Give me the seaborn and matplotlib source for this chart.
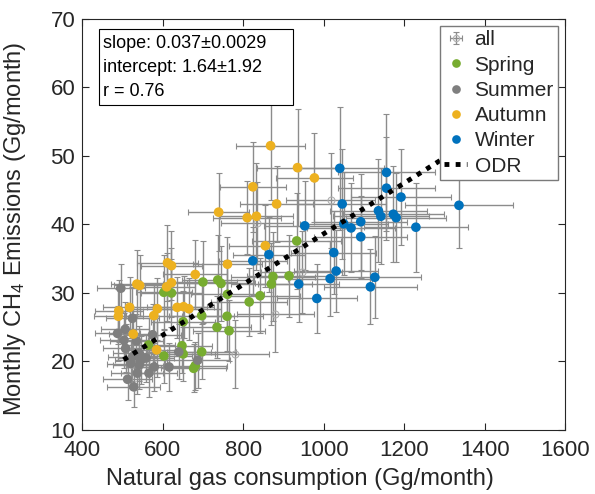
import numpy as np
import pandas as pd
import matplotlib
matplotlib.use('Agg')
import matplotlib.pyplot as plt
from matplotlib.patches import Rectangle
from matplotlib.container import ErrorbarContainer
from matplotlib.legend_handler import HandlerErrorbar
import seaborn as sns

# Seasonal monthly points: natural gas use (Gg/month) vs CH4 emissions (Gg/month)
spring_x = [603, 622, 700, 737, 745, 761, 870, 874, 914, 933, 842, 815,
            760, 735, 765, 697, 651, 648, 651, 603, 697, 681, 677, 565]
spring_y = [30.1, 30.0, 31.6, 31.9, 31.4, 29.8, 31.3, 32.4, 32.5, 37.6, 29.6, 28.7,
            26.6, 25.0, 24.5, 26.7, 25.8, 22.3, 21.1, 20.8, 21.4, 19.4, 19.0, 22.4]
spring_xerr = [70, 75, 85, 90, 85, 90, 100, 105, 105, 110, 100, 95,
               90, 85, 90, 80, 80, 75, 80, 70, 85, 80, 80, 65]
spring_yerr = [5.5, 5.0, 6.0, 6.5, 5.5, 5.0, 6.0, 6.5, 6.0, 7.0, 5.5, 5.0,
               5.0, 4.5, 4.5, 5.0, 4.5, 4.0, 4.0, 4.0, 4.0, 3.5, 3.5, 4.0]

summer_x = [496, 525, 488, 507, 504, 508, 575, 525, 542, 546, 559,
            521, 542, 537, 566, 579, 513, 528, 616, 640, 687, 535]
summer_y = [30.7, 26.3, 24.1, 24.7, 23.1, 21.9, 23.9, 20.7, 21.2, 20.2, 20.5,
            19.7, 19.5, 18.3, 18.3, 19.2, 17.4, 16.3, 19.2, 21.4, 20.2, 23.0]
summer_xerr = [60, 65, 55, 60, 60, 55, 70, 60, 65, 65, 70,
               60, 65, 65, 70, 70, 60, 65, 75, 80, 80, 65]
summer_yerr = [3.5, 4.5, 4.0, 4.0, 4.0, 3.5, 4.5, 3.5, 4.0, 3.5, 3.5,
               3.5, 3.5, 3.0, 3.5, 3.5, 3.0, 3.0, 3.5, 4.0, 4.0, 4.0]

autumn_x = [868, 935, 977, 824, 739, 810, 833, 883, 855, 612, 622, 761, 681, 536,
            543, 610, 622, 518, 491, 490, 587, 578, 636, 652, 665, 527, 585]
autumn_y = [51.5, 48.3, 46.8, 45.5, 41.8, 41.0, 41.2, 43.0, 36.9, 34.4, 34.0, 34.2, 32.7, 31.3,
            31.1, 30.9, 31.5, 27.9, 27.4, 26.6, 27.7, 26.7, 27.9, 28.0, 27.7, 24.0, 21.7]
autumn_xerr = [86, 100, 95, 82, 75, 85, 90, 90, 90, 75, 75, 85, 80, 65,
               65, 70, 75, 65, 60, 60, 70, 70, 75, 75, 80, 60, 70]
autumn_yerr = [8.0, 8.5, 6.5, 6.6, 5.7, 5.3, 7.8, 5.6, 6.0, 5.5, 5.0, 4.0, 5.0, 5.0,
               4.5, 5.0, 5.0, 4.5, 4.5, 4.0, 4.5, 4.5, 4.5, 4.5, 4.5, 4.0, 4.0]

winter_x = [1040, 1156, 1156, 1192, 1046, 1336, 1136, 1142, 1173, 1180, 1092, 1050, 1068,
            1229, 953, 1092, 864, 824, 1025, 1031, 1016, 1127, 1116, 938, 983]
winter_y = [48.2, 47.6, 45.3, 44.0, 43.0, 42.8, 42.0, 41.2, 41.5, 41.0, 40.4, 40.1, 39.5,
            39.6, 39.8, 38.2, 35.6, 34.7, 35.9, 33.2, 32.1, 32.3, 30.9, 31.3, 29.2]
winter_xerr = [110, 120, 120, 125, 110, 135, 120, 120, 125, 125, 115, 110, 110,
               130, 100, 115, 90, 85, 105, 105, 105, 115, 115, 100, 100]
winter_yerr = [9.0, 8.5, 7.5, 7.0, 8.0, 6.3, 7.5, 7.0, 7.0, 6.5, 7.0, 7.5, 6.5,
               6.5, 6.5, 6.0, 5.5, 5.0, 6.0, 6.0, 5.5, 6.0, 5.5, 5.5, 5.0]

# months without a season marker (only the open "all" circle is visible)
other_x = [779, 880, 1017, 835, 945]
other_y = [21.1, 26.9, 43.5, 40.2, 33.1]
other_xerr = [85, 95, 110, 90, 100]
other_yerr = [5.0, 5.5, 7.0, 6.0, 6.0]

# ODR fit results
odr_slope, odr_slope_err = 0.037, 0.0029
odr_icpt, odr_icpt_err = 1.64, 1.92
odr_r = 0.76

seasons = ['Spring', 'Summer', 'Autumn', 'Winter']
season_colors = ['#77AC30', '#7f7f7f', '#EDB120', '#0072BD']

frames = []
for name, xs, ys, xe, ye in [
        ('Spring', spring_x, spring_y, spring_xerr, spring_yerr),
        ('Summer', summer_x, summer_y, summer_xerr, summer_yerr),
        ('Autumn', autumn_x, autumn_y, autumn_xerr, autumn_yerr),
        ('Winter', winter_x, winter_y, winter_xerr, winter_yerr),
        ('None', other_x, other_y, other_xerr, other_yerr)]:
    frames.append(pd.DataFrame({'gas': xs, 'ch4': ys, 'xerr': xe, 'yerr': ye, 'season': name}))
df = pd.concat(frames, ignore_index=True)

sns.set_theme(style='ticks')
plt.rcParams['font.family'] = ['Liberation Sans', 'DejaVu Sans']
plt.rcParams['mathtext.fontset'] = 'custom'
plt.rcParams['mathtext.rm'] = 'Liberation Sans'
plt.rcParams['mathtext.it'] = 'Liberation Sans:italic'

fig = plt.figure(figsize=(5.95, 4.94), dpi=100, facecolor='white')
ax = fig.add_axes([0.138, 0.1296, 0.812, 0.832])

# all months with error bars
eb = ax.errorbar(df['gas'], df['ch4'], xerr=df['xerr'], yerr=df['yerr'],
                 fmt='o', ms=5, mfc='none', mec='#b0b0b0', mew=0.8,
                 ecolor='#8c8c8c', elinewidth=1.0, capsize=2.5, capthick=1.0,
                 label='all', zorder=2)

seasonal = df[df['season'] != 'None']
sns.scatterplot(data=seasonal, x='gas', y='ch4', hue='season', hue_order=seasons,
                palette=season_colors, s=48, linewidth=0, ax=ax, zorder=3)
sleg = ax.get_legend()
s_pairs = [(h, t.get_text()) for h, t in zip(sleg.legend_handles, sleg.texts)
           if t.get_text() in seasons]
sleg.remove()

xfit = np.array([df['gas'].min() + 15, df['gas'].max()])
odr_line, = ax.plot(xfit, odr_slope * xfit + odr_icpt, color='black', lw=3.5,
                    dashes=(1, 1.3), label='ODR', zorder=4)

ax.set_xlim(400, 1600)
ax.set_ylim(10, 70)
ax.set_xticks(np.arange(400, 1601, 200))
ax.set_yticks(np.arange(10, 71, 10))
ax.tick_params(direction='in', length=5, width=0.8, labelsize=16, colors='#262626',
               top=True, right=True)
ax.tick_params(axis='x', pad=7)
ax.tick_params(axis='y', pad=5)
for sp in ax.spines.values():
    sp.set_visible(True)
    sp.set_color('#262626')
    sp.set_linewidth(0.8)

ax.set_xlabel('Natural gas consumption (Gg/month)', fontsize=17, color='#262626')
ax.set_ylabel('Monthly CH$_4$ Emissions (Gg/month)', fontsize=17, color='#262626')
ax.xaxis.set_label_coords(0.45, -0.092)
ax.yaxis.set_label_coords(-0.112, 0.49)

# fit statistics box
ax.add_patch(Rectangle((0.034, 0.791), 0.402, 0.184, transform=ax.transAxes,
                       facecolor='white', edgecolor='black', lw=0.8, zorder=5))
stat_lines = [f'slope: {odr_slope}\u00b1{odr_slope_err}',
              f'intercept: {odr_icpt}\u00b1{odr_icpt_err}',
              f'r = {odr_r}']
for i, line in enumerate(stat_lines):
    ax.text(0.043, 0.940 - i * 0.058, line, transform=ax.transAxes, fontsize=13,
            color='black', va='center', ha='left', zorder=6)

handles = [eb] + [p[0] for p in s_pairs] + [odr_line]
labels = ['all'] + [p[1] for p in s_pairs] + ['ODR']
leg = ax.legend(handles, labels, loc='upper right', fontsize=15, frameon=True,
                fancybox=False, edgecolor='#7a7a7a', framealpha=1, handlelength=1.1,
                handletextpad=0.35, labelspacing=0.3, borderpad=0.2,
                borderaxespad=0.35, markerscale=0.9,
                handler_map={ErrorbarContainer: HandlerErrorbar(xerr_size=0.3, yerr_size=0.3)})
leg.get_frame().set_linewidth(1.0)
leg.set_zorder(7)

fig.savefig('out.png', dpi=100, facecolor='white')
plt.close(fig)
